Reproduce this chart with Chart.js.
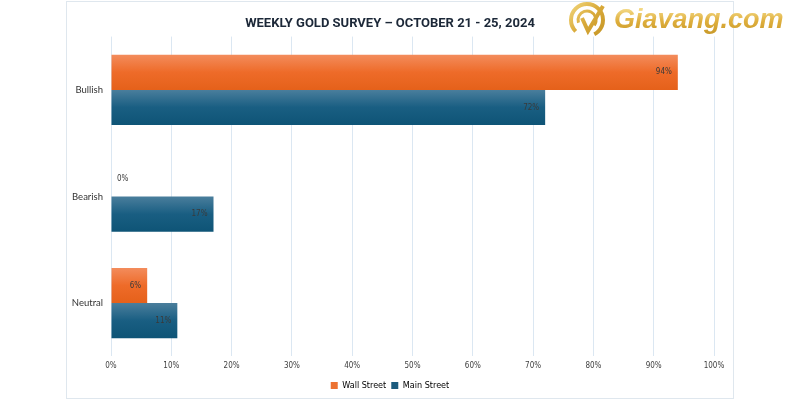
<!DOCTYPE html>
<html>
<head>
<meta charset="utf-8">
<script src="https://cdn.jsdelivr.net/npm/chart.js@4.4.0/dist/chart.umd.min.js"></script>
<style>
    html, body { margin: 0; padding: 0; background: #ffffff; }
    #wrap { width: 800px; height: 400px; }
</style>
</head>
<body>
<div id="wrap"><canvas id="graficoOuro"></canvas></div>
<script>
// dados
const categorias = ['Bullish', 'Bearish', 'Neutral'];
const wallStreet = [94, 0, 6];
const mainStreet = [72, 17, 11];
const ticksX = [0, 10, 20, 30, 40, 50, 60, 70, 80, 90, 100];

const larguraCategoria = 0.66;

const fonteNarrow = '"Liberation Sans Narrow", "DejaVu Sans Condensed", sans-serif';

// gradiente por barra (mais claro em cima)
function gradiente(ctx, cores, parte) {
    const chart = ctx.chart;
    const y = chart.scales.y;
    if (!y || y.top === undefined || ctx.dataIndex === undefined) return cores[1];
    const centro = y.getPixelForValue(ctx.dataIndex);
    const banda = (y.height / categorias.length) * larguraCategoria;
    const topo = parte === 0 ? centro - banda / 2 : centro;
    const g = chart.ctx.createLinearGradient(0, topo, 0, topo + banda / 2);
    g.addColorStop(0, cores[0]);
    g.addColorStop(0.5, cores[1]);
    g.addColorStop(1, cores[2]);
    return g;
}

// moldura, rotulos e marca d'agua
const extras = {
    id: 'extras',
    beforeDraw(chart) {
        const c = chart.ctx;
        c.save();
        c.fillStyle = '#ffffff';
        c.fillRect(0, 0, chart.width, chart.height);
        c.strokeStyle = '#dfe7ee';
        c.lineWidth = 1;
        c.strokeRect(66.5, 1.5, 667, 397);
        c.restore();
    },
    afterDatasetsDraw(chart) {
        const c = chart.ctx;
        c.save();
        c.font = '8px ' + fonteNarrow;
        c.fillStyle = '#3a3a3a';
        c.textBaseline = 'middle';
        chart.data.datasets.forEach((ds, i) => {
            chart.getDatasetMeta(i).data.forEach((bar, j) => {
                const v = ds.data[j];
                if (v === 0) {
                    c.textAlign = 'left';
                    c.fillText(v + '%', bar.base + 6, bar.y);
                } else {
                    c.textAlign = 'right';
                    c.fillText(v + '%', bar.x - 6, bar.y);
                }
            });
        });
        c.restore();
    },
    afterDraw(chart) {
        const c = chart.ctx;
        c.save();
        // logo
        const g = c.createLinearGradient(566, 0, 608, 40);
        g.addColorStop(0, '#f7e08a');
        g.addColorStop(0.5, '#d9aa3a');
        g.addColorStop(1, '#c09020');
        c.strokeStyle = g;
        c.lineWidth = 4;
        c.beginPath();
        c.arc(587, 20, 16, Math.PI * 0.75, Math.PI * 2.35);
        c.stroke();
        c.lineWidth = 3;
        c.beginPath();
        c.arc(587, 20, 9, Math.PI * 0.9, Math.PI * 2.2);
        c.stroke();
        c.lineWidth = 4;
        c.beginPath();
        c.moveTo(582, 18);
        c.lineTo(588, 31);
        c.lineTo(603, 6);
        c.stroke();
        // texto
        const g2 = c.createLinearGradient(0, 6, 0, 34);
        g2.addColorStop(0, '#f8e294');
        g2.addColorStop(0.55, '#deae3c');
        g2.addColorStop(1, '#c99a2a');
        c.fillStyle = g2;
        c.font = 'italic bold 27px "Liberation Sans", sans-serif';
        c.textAlign = 'left';
        c.textBaseline = 'middle';
        c.fillText('Giavang.com', 614, 21);
        c.restore();
    }
};

new Chart(document.getElementById('graficoOuro'), {
    type: 'bar',
    data: {
        labels: categorias,
        datasets: [{
            label: 'Wall Street',
            data: wallStreet,
            backgroundColor: (ctx) => gradiente(ctx, ['#f38c5c', '#ee6b29', '#e5611a'], 0),
            categoryPercentage: larguraCategoria,
            barPercentage: 1
        }, {
            label: 'Main Street',
            data: mainStreet,
            backgroundColor: (ctx) => gradiente(ctx, ['#4a7e9c', '#195e82', '#0e5476'], 1),
            categoryPercentage: larguraCategoria,
            barPercentage: 1
        }]
    },
    options: {
        indexAxis: 'y',
        responsive: true,
        maintainAspectRatio: false,
        animation: false,
        layout: {
            padding: { left: 66, right: 86, top: 0, bottom: 0 }
        },
        plugins: {
            title: {
                display: true,
                text: 'WEEKLY GOLD SURVEY \u2013 OCTOBER 21 - 25, 2024',
                color: '#1c2838',
                font: { family: 'Roboto', size: 13, weight: 'bold' },
                padding: { top: 16, bottom: 5 }
            },
            legend: {
                position: 'bottom',
                labels: {
                    generateLabels: () => [
                        { text: 'Wall Street', fillStyle: '#ec7232', strokeStyle: '#ec7232', lineWidth: 0, datasetIndex: 0 },
                        { text: 'Main Street', fillStyle: '#1b5b7e', strokeStyle: '#1b5b7e', lineWidth: 0, datasetIndex: 1 }
                    ],
                    boxWidth: 7,
                    boxHeight: 7,
                    padding: 5,
                    color: '#404040',
                    font: { family: fonteNarrow, size: 9 }
                }
            },
            tooltip: { enabled: false }
        },
        scales: {
            x: {
                min: 0,
                max: 100,
                afterBuildTicks: (axis) => { axis.ticks = ticksX.map(v => ({ value: v })); },
                grid: { color: '#dbe7f2', drawTicks: false },
                border: { display: false },
                ticks: {
                    padding: 5,
                    color: '#404040',
                    font: { family: fonteNarrow, size: 8 },
                    callback: (v) => v + '%'
                }
            },
            y: {
                grid: { display: false, drawTicks: false },
                border: { display: false },
                afterFit: (axis) => { axis.width = 45; },
                ticks: {
                    padding: 8,
                    color: '#333333',
                    font: { family: 'Lato', size: 9.5 }
                }
            }
        }
    },
    plugins: [extras]
});
</script>
</body>
</html>
